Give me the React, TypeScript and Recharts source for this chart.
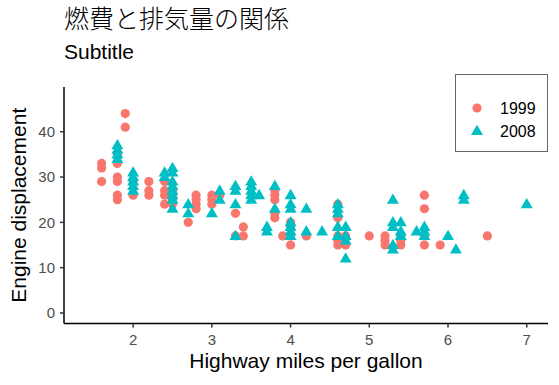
import React from 'react';
import { ScatterChart, Scatter, XAxis, YAxis } from 'recharts';

const years = ['1999', '2008'];
const colors = ['#F8766D', '#00BFC4'];

const displ1999 = [
  1.6, 1.6, 1.6, 1.8, 1.8, 1.8, 1.8, 1.8, 1.8, 1.9, 1.9, 2.0, 2.0, 2.2, 2.2, 2.2,
  2.4, 2.4, 2.4, 2.4, 2.5, 2.5, 2.5, 2.5, 2.7, 2.8, 2.8, 2.8, 2.8, 3.0, 3.0, 3.0,
  3.1, 3.3, 3.3, 3.4, 3.4, 3.8, 3.8, 3.8, 3.8, 3.8, 3.9, 4.0, 4.0, 4.0, 4.0, 4.2,
  4.6, 4.6, 4.6, 4.6, 4.6, 4.7, 4.7, 5.0, 5.2, 5.2, 5.2, 5.4, 5.4, 5.4, 5.7, 5.7,
  5.7, 5.7, 5.9, 6.5,
];
const hwy1999 = [
  33, 32, 29, 29, 26, 25, 30, 33, 35, 44, 41, 29, 26, 26, 29, 27,
  27, 24, 26, 29, 26, 25, 24, 27, 20, 26, 25, 24, 23, 24, 26, 25,
  26, 22, 17, 19, 17, 22, 21, 26, 25, 27, 17, 17, 19, 20, 15, 17,
  17, 16, 24, 21, 15, 17, 15, 17, 17, 15, 16, 17, 15, 16, 26, 23,
  17, 15, 15, 17,
];

const displ2008 = [
  1.8, 1.8, 1.8, 1.8, 2.0, 2.0, 2.0, 2.0, 2.0, 2.4, 2.4, 2.5, 2.5, 2.5, 2.5, 2.5,
  2.5, 2.5, 2.5, 2.7, 2.7, 3.0, 3.1, 3.1, 3.3, 3.3, 3.3, 3.3, 3.5, 3.5, 3.5, 3.5,
  3.5, 3.6, 3.7, 3.7, 3.8, 3.8, 4.0, 4.0, 4.0, 4.0, 4.0, 4.0, 4.0, 4.2, 4.2, 4.4,
  4.6, 4.6, 4.6, 4.6, 4.6, 4.7, 4.7, 4.7, 4.7, 5.3, 5.3, 5.3, 5.3, 5.3, 5.4, 5.4,
  5.4, 5.6, 5.7, 5.7, 5.7, 6.0, 6.1, 6.2, 6.2, 7.0,
];
const hwy2008 = [
  34, 36, 37, 35, 31, 30, 28, 27, 29, 30, 31, 32, 31, 29, 28, 27,
  26, 25, 23, 24, 22, 22, 27, 25, 28, 27, 24, 17, 29, 28, 27, 26,
  25, 26, 19, 18, 28, 23, 26, 24, 23, 20, 19, 18, 17, 23, 18, 18,
  24, 23, 22, 19, 17, 19, 17, 16, 12, 25, 20, 19, 15, 14, 20, 18,
  17, 18, 19, 18, 17, 17, 14, 26, 25, 24,
];

const xTicks = [2, 3, 4, 5, 6, 7];
const yTicks = [0, 10, 20, 30, 40];

const data1999 = displ1999.map((d, i) => ({ displ: d, hwy: hwy1999[i] }));
const data2008 = displ2008.map((d, i) => ({ displ: d, hwy: hwy2008[i] }));

const latin = '"Liberation Sans", Arial, sans-serif';

const Dot = (props: any) => (
  <circle cx={props.cx} cy={props.cy} r={4.6} fill={colors[0]} />
);

const Tri = (props: any) => {
  const { cx, cy } = props;
  return (
    <polygon
      points={`${cx},${cy - 6.3} ${cx - 6},${cy + 4} ${cx + 6},${cy + 4}`}
      fill={colors[1]}
    />
  );
};

const App = () => {
  return (
    <div style={{ position: 'absolute', left: 0, top: 0, width: 559, height: 385, background: '#fff' }}>
      <div style={{ position: 'absolute', left: 64, top: 5, fontSize: 25, lineHeight: 1, fontFamily: '"Noto Sans CJK JP", sans-serif', fontWeight: 300, color: '#000', whiteSpace: 'nowrap' }}>
        燃費と排気量の関係
      </div>
      <div style={{ position: 'absolute', left: 64, top: 41, fontSize: 21, lineHeight: 1, fontFamily: latin, color: '#000' }}>
        Subtitle
      </div>
      <ScatterChart width={559} height={385} margin={{ top: 87, right: 11, bottom: 0, left: 0 }}>
        <XAxis
          type="number"
          dataKey="displ"
          domain={[1.122, 7.27]}
          ticks={xTicks}
          allowDataOverflow
          height={61.5}
          axisLine={{ stroke: '#000', strokeWidth: 1.5 }}
          tickLine={{ stroke: '#333', strokeWidth: 1.5 }}
          tickSize={4}
          tickMargin={7}
          tick={{ fill: '#4d4d4d', fontSize: 15, fontFamily: latin }}
          label={{ value: 'Highway miles per gallon', position: 'insideBottom', offset: 17, style: { fill: '#000', fontSize: 21, fontFamily: latin } }}
        />
        <YAxis
          type="number"
          dataKey="hwy"
          domain={[-2.32, 49.87]}
          ticks={yTicks}
          allowDataOverflow
          width={64}
          axisLine={{ stroke: '#000', strokeWidth: 1.5 }}
          tickLine={{ stroke: '#333', strokeWidth: 1.5 }}
          tickSize={4}
          tickMargin={5}
          tick={{ fill: '#4d4d4d', fontSize: 15, fontFamily: latin }}
          label={{ value: 'Engine displacement', angle: -90, position: 'insideLeft', offset: 19, style: { fill: '#000', fontSize: 21, fontFamily: latin, textAnchor: 'middle' } }}
        />
        <Scatter name={years[0]} data={data1999} shape={Dot} isAnimationActive={false} />
        <Scatter name={years[1]} data={data2008} shape={Tri} isAnimationActive={false} />
      </ScatterChart>
      <svg width={93} height={78} style={{ position: 'absolute', left: 455, top: 74 }}>
        <rect x={0.5} y={0.5} width={92} height={77} fill="#fff" stroke="#666" strokeWidth={1} />
        <circle cx={22} cy={34} r={4.6} fill={colors[0]} />
        <polygon points="22,50.7 16,61 28,61" fill={colors[1]} />
        <text x={45} y={39.5} fontSize={16} fontFamily={latin} fill="#000">{years[0]}</text>
        <text x={45} y={62.5} fontSize={16} fontFamily={latin} fill="#000">{years[1]}</text>
      </svg>
    </div>
  );
};

export default App;
